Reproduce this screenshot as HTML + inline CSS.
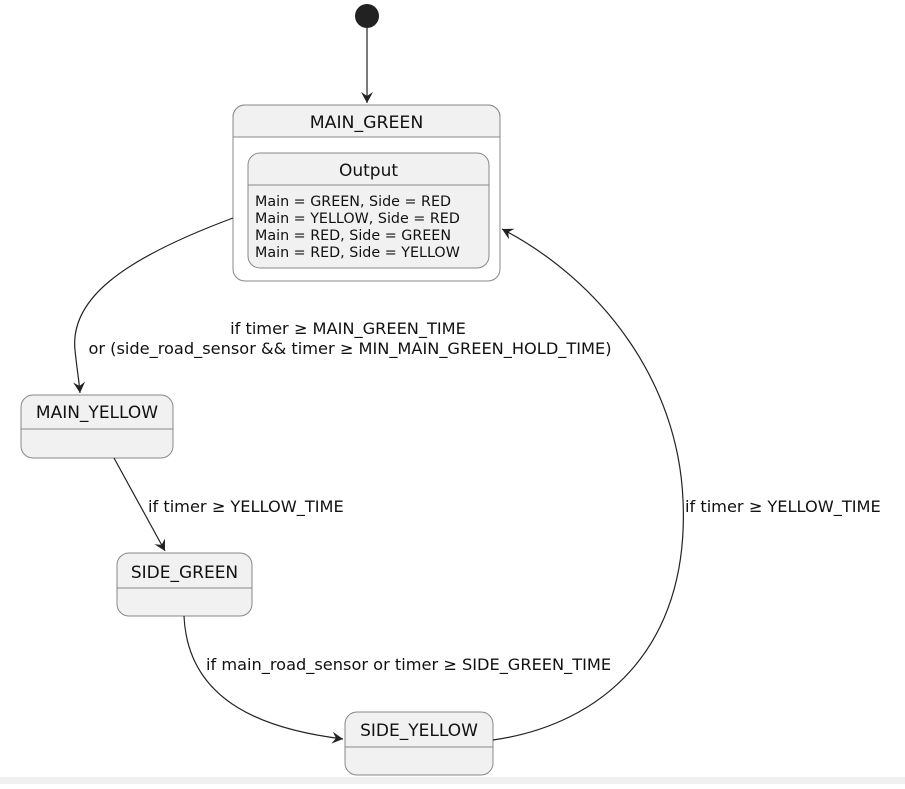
<!DOCTYPE html>
<html><head><meta charset="utf-8"><style>
body{margin:0;background:#fff}
svg text{font-family:"DejaVu Sans","Liberation Sans",sans-serif;fill:#111}
</style></head><body>
<svg width="905" height="784" viewBox="0 0 905 784" xmlns="http://www.w3.org/2000/svg">
<defs><marker id="a" markerWidth="14" markerHeight="14" refX="11" refY="6" orient="auto" markerUnits="userSpaceOnUse"><path d="M0,0 L11,6 L0,12 L4,6 Z" fill="#222"/></marker></defs>
<rect x="0" y="777" width="905" height="7" fill="#f0f0f0"/>
<circle cx="367" cy="16" r="12" fill="#222"/>
<line x1="367" y1="28" x2="367" y2="103" stroke="#222" stroke-width="1.2" marker-end="url(#a)"/>
<rect x="233" y="105" width="267" height="176" rx="12" fill="#fff" stroke="#888"/>
<path d="M233,137 V117 a12,12 0 0 1 12,-12 H488 a12,12 0 0 1 12,12 V137 Z" fill="#f1f1f1" stroke="#888"/>
<text x="366.5" y="128" font-size="17.3" text-anchor="middle">MAIN_GREEN</text>
<rect x="248" y="153" width="241" height="115" rx="12" fill="#f1f1f1" stroke="#888"/>
<line x1="248" y1="185" x2="489" y2="185" stroke="#888"/>
<text x="368.5" y="176" font-size="17" text-anchor="middle">Output</text>
<g font-size="14.3"><text x="255" y="206">Main = GREEN, Side = RED</text><text x="255" y="223">Main = YELLOW, Side = RED</text><text x="255" y="240">Main = RED, Side = GREEN</text><text x="255" y="257">Main = RED, Side = YELLOW</text></g>
<rect x="21" y="395" width="152" height="63" rx="12" fill="#f1f1f1" stroke="#888"/>
<line x1="21" y1="429" x2="173" y2="429" stroke="#888"/>
<text x="97" y="418" font-size="17" text-anchor="middle">MAIN_YELLOW</text>
<rect x="117" y="553" width="135" height="63" rx="12" fill="#f1f1f1" stroke="#888"/>
<line x1="117" y1="588" x2="252" y2="588" stroke="#888"/>
<text x="184.5" y="578" font-size="17" text-anchor="middle">SIDE_GREEN</text>
<rect x="345" y="712" width="148" height="63" rx="12" fill="#f1f1f1" stroke="#888"/>
<line x1="345" y1="747" x2="493" y2="747" stroke="#888"/>
<text x="419" y="736" font-size="17" text-anchor="middle">SIDE_YELLOW</text>
<g fill="none" stroke="#222" stroke-width="1.2">
<path d="M233,218 C120,260 70,300 75,350 C77,370 79,380 80,393" marker-end="url(#a)"/>
<path d="M114,458 L165,551" marker-end="url(#a)"/>
<path d="M184,616 C188,705 270,730 343,739" marker-end="url(#a)"/>
<path d="M493,740 C600,725 690,650 683,500 C678,380 600,280 502,229" marker-end="url(#a)"/>
</g>
<g font-size="16.2">
<text x="348" y="334" text-anchor="middle">if timer ≥ MAIN_GREEN_TIME</text>
<text x="350" y="354" text-anchor="middle">or (side_road_sensor &amp;&amp; timer ≥ MIN_MAIN_GREEN_HOLD_TIME)</text>
<text x="148" y="512">if timer ≥ YELLOW_TIME</text>
<text x="685" y="512">if timer ≥ YELLOW_TIME</text>
<text x="206" y="670">if main_road_sensor or timer ≥ SIDE_GREEN_TIME</text>
</g>
</svg>
</body></html>
